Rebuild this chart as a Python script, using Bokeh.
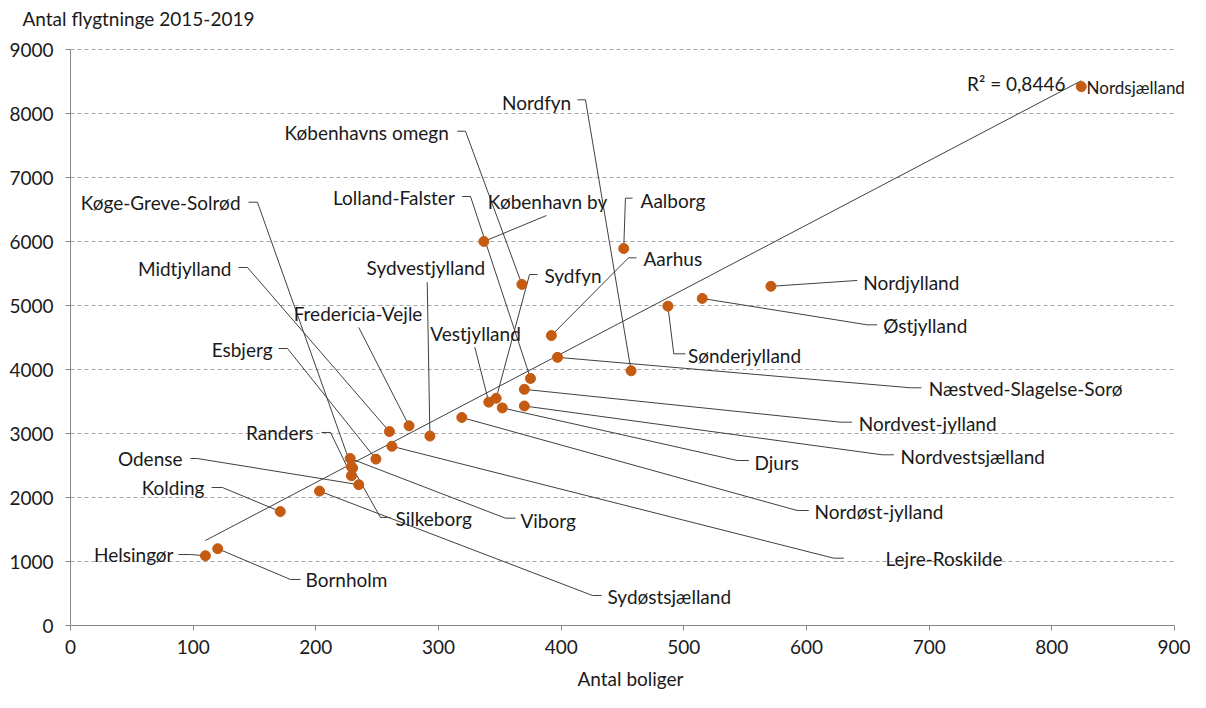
import numpy as np
from bokeh.plotting import figure
from bokeh.models import ColumnDataSource, Range1d, FixedTicker, Title
from bokeh.core.properties import value
from bokeh.embed import file_html
from bokeh.resources import INLINE

# ---------------- data ----------------
regions = ["Helsingør", "Bornholm", "Kolding", "Sydøstsjælland", "Odense", "Viborg",
           "Køge-Greve-Solrød", "Silkeborg", "Randers", "Esbjerg", "Midtjylland",
           "Fredericia-Vejle", "Sydvestjylland", "Lejre-Roskilde", "Nordøst-jylland",
           "København by", "Københavns omegn", "Aalborg", "Sønderjylland", "Østjylland",
           "Aarhus", "Næstved-Slagelse-Sorø", "Nordfyn", "Lolland-Falster",
           "Nordvest-jylland", "Vestjylland", "Sydfyn", "Djurs", "Nordvestsjælland",
           "Nordjylland", "Nordsjælland"]
boliger = [110, 120, 171, 203, 235, 228, 229, 230, 229, 249, 260,
           276, 293, 262, 319, 337, 368, 451, 487, 515,
           392, 397, 457, 375, 370, 341, 347, 352, 370, 571, 824]
flygtninge = [1090, 1200, 1780, 2100, 2200, 2610, 2480, 2460, 2340, 2600, 3030,
              3120, 2960, 2800, 3250, 6000, 5330, 5890, 4990, 5110,
              4530, 4190, 3980, 3860, 3690, 3490, 3550, 3400, 3430, 5300, 8420]
r2_text = "R² = 0,8446"
title_text = "Antal flygtninge 2015-2019"
xaxis_title = "Antal boliger"
x_ticks = list(range(0, 1000, 100))
y_ticks = list(range(0, 10000, 1000))

# ---------------- label layout (data units) ----------------
label_x = [84.0, 191.6, 109.2, 437.8, 91.3, 366.8, 138.6, 264.9, 198.1, 164.7, 131.2,
           234.4, 289.7, 664.4, 606.5, 388.9, 308.4, 464.7, 503.3, 662.5,
           467.1, 699.7, 408.2, 313.3, 642.6, 330.2, 386.4, 557.6, 676.6, 646.2, 828.3]
label_y = [1109, 719, 2156, 453, 2609, 1641, 6609, 1672, 3016, 4313, 5578,
           4875, 5598, 1052, 1781, 6630, 7708, 6641, 4219, 4688,
           5734, 3708, 8177, 6683, 3161, 4567, 5469, 2552, 2645, 5364, 8402]
label_align = ["right", "left", "right", "left", "right", "left", "right", "left", "right", "right", "right",
               "center", "center", "left", "left", "center", "right", "left", "left", "left",
               "left", "left", "right", "right", "left", "center", "left", "left", "left", "left", "left"]
lead_sx = [88.0, 187.5, 115.0, 432.9, 97.8, 362.8, 145.1, 260.9, 204.6, 169.6, 137.0,
           235.0, 290.8, 630.4, 601.9, 388.0, 315.3, 458.2, 501.4, 657.6,
           461.4, 693.7, 413.3, 319.3, 637.2, 329.6, 380.7, 553.0, 671.2, 641.3, None]
lead_sy = [1109, 719, 2156, 469, 2609, 1677, 6614, 1688, 3016, 4328, 5594,
           4656, 5364, 1052, 1797, 6406, 7723, 6677, 4245, 4698,
           5745, 3714, 8214, 6703, 3177, 4348, 5484, 2578, 2667, 5391, None]
lead_ex = [97.8, 179.3, 123.9, 425.5, 103.5, 354.6, 152.4, 252.7, 212.0, 176.9, 144.3,
           235.0, 290.8, 622.2, 592.4, 388.0, 322.0, 452.4, 491.8, 649.5,
           454.9, 684.8, 419.8, 326.1, 627.7, 329.6, 374.2, 543.5, 661.7, 641.3, None]
lead_ey = [1109, 719, 2156, 469, 2609, 1677, 6614, 1688, 3016, 4328, 5594,
           4656, 5364, 1052, 1797, 6406, 7723, 6677, 4245, 4698,
           5745, 3714, 8214, 6703, 3177, 4348, 5484, 2578, 2667, 5391, None]
r2_x, r2_y = 811.1, 8473

FONT = "Lato"
DOT = "#c55a11"
LINE = "#404040"
TXT = "#1a1a1a"
PX_PER_X = 1104 / 900.0
PX_PER_Y = 576 / 9000.0

W, H = 1190, 692
LEFT, TOP = 70, 48
frame_w = W - LEFT
frame_h = 577
x_end = frame_w / PX_PER_X
y_end = 9000 + 1 / PX_PER_Y

p = figure(frame_width=frame_w, frame_height=frame_h, output_backend="svg", toolbar_location=None,
           x_range=Range1d(0, x_end), y_range=Range1d(0, y_end),
           min_border_left=LEFT, min_border_right=0, min_border_top=TOP,
           min_border_bottom=H - TOP - frame_h)
p.outline_line_color = None
p.background_fill_color = "white"
p.border_fill_color = "white"

p.title.text = title_text
p.title.align = "left"
p.title.offset = -48
p.title.standoff = 1
p.title.text_font = FONT
p.title.text_font_size = "19px"
p.title.text_font_style = "normal"
p.title.text_color = TXT
# empty spacer panel between the frame and the title
p.add_layout(Title(text=" ", text_font_size="14px", standoff=0), "above")

for ax, ticks, b in ((p.xaxis, x_ticks, (0, 900)), (p.yaxis, y_ticks, (0, 9000))):
    ax.ticker = FixedTicker(ticks=ticks)
    ax.bounds = b
    ax.axis_line_color = "#868686"
    ax.major_tick_line_color = "#868686"
    ax.major_tick_out = 5
    ax.major_tick_in = 0
    ax.minor_tick_line_color = None
    ax.major_label_text_font = FONT
    ax.major_label_text_font_size = "19px"
    ax.major_label_text_color = TXT
p.xaxis.major_label_standoff = 9
p.yaxis.major_label_standoff = 12
p.xaxis.axis_label = xaxis_title
p.xaxis.axis_label_text_font = FONT
p.xaxis.axis_label_text_font_size = "19px"
p.xaxis.axis_label_text_font_style = "normal"
p.xaxis.axis_label_text_color = TXT
p.xaxis.axis_label_standoff = 10

p.xgrid.grid_line_color = None
p.ygrid.grid_line_color = None

# horizontal dashed gridlines, limited to the axis span
gy = [t for t in y_ticks if t > 0]
p.segment(x0=[x_ticks[0]] * len(gy), x1=[x_ticks[-1]] * len(gy), y0=gy, y1=gy,
          line_color="#a6a6a6", line_dash="4 3", line_width=1)

# trend line (least squares)
bx = np.array(boliger, dtype=float)
fy = np.array(flygtninge, dtype=float)
slope, icpt = np.polyfit(bx, fy, 1)
tx = np.array([bx.min(), bx.max()])
p.line(tx, slope * tx + icpt, line_color=LINE, line_width=1)

# leader lines
xs, ys = [], []
for i in range(len(regions)):
    if lead_sx[i] is None:
        continue
    xs.append([lead_sx[i], lead_ex[i], boliger[i]])
    ys.append([lead_sy[i], lead_ey[i], flygtninge[i]])
p.multi_line(xs, ys, line_color=LINE, line_width=1)

# points
p.scatter(boliger, flygtninge, size=10, fill_color=DOT, line_color=DOT)

# labels
src = ColumnDataSource(dict(x=label_x[:-1] + [r2_x], y=label_y[:-1] + [r2_y],
                            t=regions[:-1] + [r2_text], a=label_align[:-1] + ["right"]))
p.text(x="x", y="y", text="t", text_align="a", source=src, text_baseline="middle",
       text_font=value(FONT), text_font_size="19px", text_color=TXT)
# last label sits at the right edge: slightly smaller so that it fits the page
p.text(x=[label_x[-1]], y=[label_y[-1]], text=[regions[-1]], text_align="left",
       text_baseline="middle", text_font=value(FONT), text_font_size="17px", text_color=TXT)

open("out.html", "w").write(file_html(p, INLINE))
